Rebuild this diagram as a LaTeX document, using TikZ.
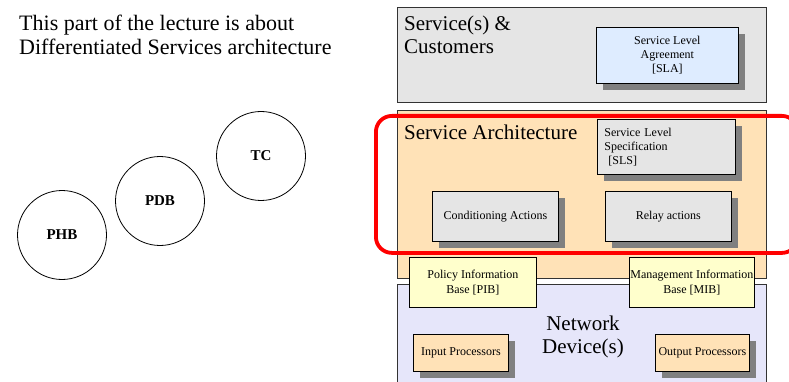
\documentclass[tikz,border=0pt]{standalone}
\usepackage{fontspec}
\newfontfamily\tnr{LiberationSerif}[Extension=.ttf, UprightFont=*-Regular, BoldFont=*-Bold]
\definecolor{panelgray}{RGB}{229,229,229}
\definecolor{peach}{RGB}{255,226,183}
\definecolor{lavender}{RGB}{230,230,250}
\definecolor{slablue}{RGB}{222,236,255}
\definecolor{pibyellow}{RGB}{255,255,204}
\definecolor{shadowgray}{RGB}{128,128,128}
\begin{document}
\begin{tikzpicture}[x=1pt,y=-1pt,
  panel/.style={draw=black!80, line width=0.9pt, anchor=north west, inner sep=0pt},
  shbox/.style={draw=black, line width=0.7pt, anchor=north west, inner sep=2pt, align=center,
    font=\tnr\fontsize{12}{14}\selectfont,
    preaction={fill=shadowgray, draw=none, transform canvas={xshift=7pt, yshift=-7pt}}},
  ybox/.style={draw=black, line width=0.7pt, fill=pibyellow, anchor=north west, inner sep=0pt,
    align=center, font=\tnr\fontsize{12}{15}\selectfont},
  circ/.style={circle, draw, line width=0.8pt, minimum size=89pt, inner sep=0pt,
    font=\tnr\bfseries\fontsize{15}{17}\selectfont},
  title/.style={inner sep=0pt, align=left, font=\tnr\fontsize{21}{23}\selectfont}]
\useasboundingbox (0,0) rectangle (789,382);

% intro text
\node[anchor=north west, inner sep=0pt, align=left, font=\tnr\fontsize{22}{24}\selectfont] (intro) at (19,15)
  {This part of the lecture is about\\Differentiated Services architecture};

% circles
\node[circ] (phb) at (62,235) {PHB};
\node[circ] (pdb) at (160,201) {PDB};
\node[circ] (tc) at (261,156) {TC};

% panels
\node[panel, fill=panelgray, minimum width=369pt, minimum height=95pt] (cust) at (397,7) {};
\node[panel, fill=peach, minimum width=369pt, minimum height=168pt] (arch) at (397,110) {};
\node[panel, fill=lavender, minimum width=369pt, minimum height=110pt] (netdev) at (397,284) {};

% panel titles
\node[title, anchor=north west] (custtitle) at (404,16) {Service(s) \&\\Customers};
\node[title, anchor=base west] (archtitle) at (404,140) {Service Architecture};
\node[title, anchor=north, align=center] (nettitle) at (583,316) {Network\\Device(s)};

% boxes
\node[shbox, fill=slablue, minimum width=142pt, minimum height=56pt] (sla) at (596,27)
  {Service Level\\Agreement\\{[SLA]}};
\node[shbox, fill=panelgray, minimum width=138pt, minimum height=55pt, align=left,
  text width=124pt, inner sep=7pt] (sls) at (597,119)
  {Service Level\\Specification\\\ {[SLS]}};
\node[shbox, fill=panelgray, minimum width=126pt, minimum height=50pt] (cond) at (432,191)
  {Conditioning Actions};
\node[shbox, fill=panelgray, minimum width=126pt, minimum height=50pt] (relay) at (605,191)
  {Relay actions};
\node[ybox, minimum width=127pt, minimum height=50pt] (pib) at (409,257)
  {Policy Information\\Base [PIB]};
\node[ybox, minimum width=125pt, minimum height=50pt] (mib) at (629,257)
  {Management Information\\Base [MIB]};
\node[shbox, fill=peach, minimum width=95pt, minimum height=37pt] (inproc) at (413,334)
  {Input Processors};
\node[shbox, fill=peach, minimum width=94pt, minimum height=37pt, inner sep=1pt] (outproc) at (655,334)
  {Output Processors};

% red highlight
\node[draw=red, line width=3.8pt, rounded corners=16pt, anchor=north west,
  minimum width=422pt, minimum height=137pt, inner sep=0pt] (focus) at (374,114) {};
\end{tikzpicture}
\end{document}
